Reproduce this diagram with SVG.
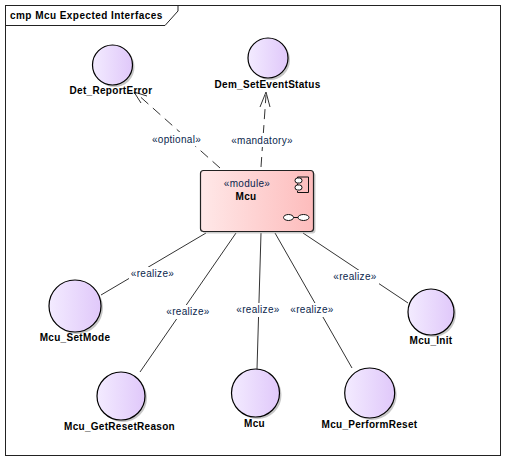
<svg xmlns="http://www.w3.org/2000/svg" width="506" height="462" viewBox="0 0 506 462">
<style>
text{font-family:"Liberation Sans",Arial,sans-serif;font-size:10px;fill:#000}
.n{font-weight:bold;text-anchor:middle;letter-spacing:.3px}
.s{fill:#0a1f4d;text-anchor:middle;letter-spacing:.3px}
.c{stroke:#000;stroke-width:1.2;fill:url(#cg)}
.sh{fill:#999;opacity:.55}
.l{stroke:#333;stroke-width:1;fill:none}
.d{stroke-dasharray:10 6}
.bg{fill:#fff}
</style>
<defs>
<linearGradient id="cg"><stop offset="0" stop-color="#f3ebff"/><stop offset="1" stop-color="#e0c8fa"/></linearGradient>
<linearGradient id="mg"><stop offset="0" stop-color="#ffe8e8"/><stop offset="1" stop-color="#fdbcbc"/></linearGradient>
</defs>
<rect width="506" height="462" fill="#fff"/>
<g id="frame">
<rect x="5.5" y="5.5" width="495" height="450" fill="#fff" stroke="#222" stroke-width="1"/>
<path d="M5.5 25.5H165L178 11V5.5" fill="none" stroke="#222"/>
<text x="10" y="18.500" font-weight="bold" style="letter-spacing:.45px">cmp Mcu Expected Interfaces</text>
</g>
<g id="connectors">
<path class="l d" d="M220 168L136 93"/>
<path class="l" d="M141 103L134 92L147 96"/>
<path class="l d" d="M261 167L266 95"/>
<path class="l" d="M260 107L266 92L270 107"/>
<path class="l" d="M206 233L101 295"/>
<path class="l" d="M236 233L140 372"/>
<path class="l" d="M261 233L257 369"/>
<path class="l" d="M275 233L352 368"/>
<path class="l" d="M303 233L408 303"/>
</g>
<g id="labels">
<rect class="bg" x="149" y="132" width="56" height="14"/>
<text class="s" x="176.500" y="143">«optional»</text>
<rect class="bg" x="229" y="133" width="66" height="14"/>
<text class="s" x="262" y="144">«mandatory»</text>
<rect class="bg" x="129" y="267" width="48" height="14"/>
<text class="s" x="152.500" y="277">«realize»</text>
<rect class="bg" x="164" y="305" width="48" height="14"/>
<text class="s" x="188" y="315">«realize»</text>
<rect class="bg" x="234" y="303" width="48" height="14"/>
<text class="s" x="258" y="313">«realize»</text>
<rect class="bg" x="288" y="303" width="48" height="14"/>
<text class="s" x="312" y="313">«realize»</text>
<rect class="bg" x="331" y="270" width="48" height="14"/>
<text class="s" x="355" y="280">«realize»</text>
</g>
<g id="module-mcu">
<rect x="202.500" y="172.500" width="113" height="61" rx="3" fill="#aaa" opacity=".6"/>
<rect x="200.500" y="170.500" width="113" height="61" rx="3" fill="url(#mg)" stroke="#222" stroke-width="1.2"/>
<text class="s" x="247" y="187">«module»</text>
<text class="n" x="246" y="200">Mcu</text>
<path d="M297.500 177H308.500V192.500H297.500V191M297.500 185V183.500M297.500 177V178" fill="none" stroke="#111"/>
<rect x="295" y="178" width="7" height="5" rx="2.500" fill="#fff" stroke="#111"/>
<rect x="295" y="185" width="7" height="5" rx="2.500" fill="#fff" stroke="#111"/>
<ellipse cx="288.500" cy="217.500" rx="5" ry="3" fill="#fff" stroke="#111"/>
<ellipse cx="303.500" cy="217.500" rx="5.500" ry="3" fill="#fff" stroke="#111"/>
<path d="M293.500 217.500H298" stroke="#111"/>
</g>
<g id="if-det"><circle class="sh" cx="114.500" cy="67" r="20"/><circle class="c" cx="112.500" cy="65" r="20"/><text class="n" x="111" y="94">Det_ReportError</text></g>
<g id="if-dem"><circle class="sh" cx="270" cy="60" r="20"/><circle class="c" cx="268" cy="58" r="20"/><text class="n" x="267.500" y="88">Dem_SetEventStatus</text></g>
<g id="if-setmode"><circle class="sh" cx="77" cy="308" r="26"/><circle class="c" cx="75" cy="306" r="26"/><text class="n" x="75" y="341">Mcu_SetMode</text></g>
<g id="if-getreset"><circle class="sh" cx="123" cy="398" r="24"/><circle class="c" cx="121" cy="396" r="24"/><text class="n" x="119.500" y="430">Mcu_GetResetReason</text></g>
<g id="if-mcu"><circle class="sh" cx="257.500" cy="395" r="24"/><circle class="c" cx="255.500" cy="393" r="24"/><text class="n" x="254.500" y="427">Mcu</text></g>
<g id="if-perform"><circle class="sh" cx="371.700" cy="395" r="25"/><circle class="c" cx="369.700" cy="393" r="25"/><text class="n" x="369.500" y="428">Mcu_PerformReset</text></g>
<g id="if-init"><circle class="sh" cx="433" cy="314" r="23"/><circle class="c" cx="431" cy="312" r="23"/><text class="n" x="431" y="344">Mcu_Init</text></g>
</svg>
